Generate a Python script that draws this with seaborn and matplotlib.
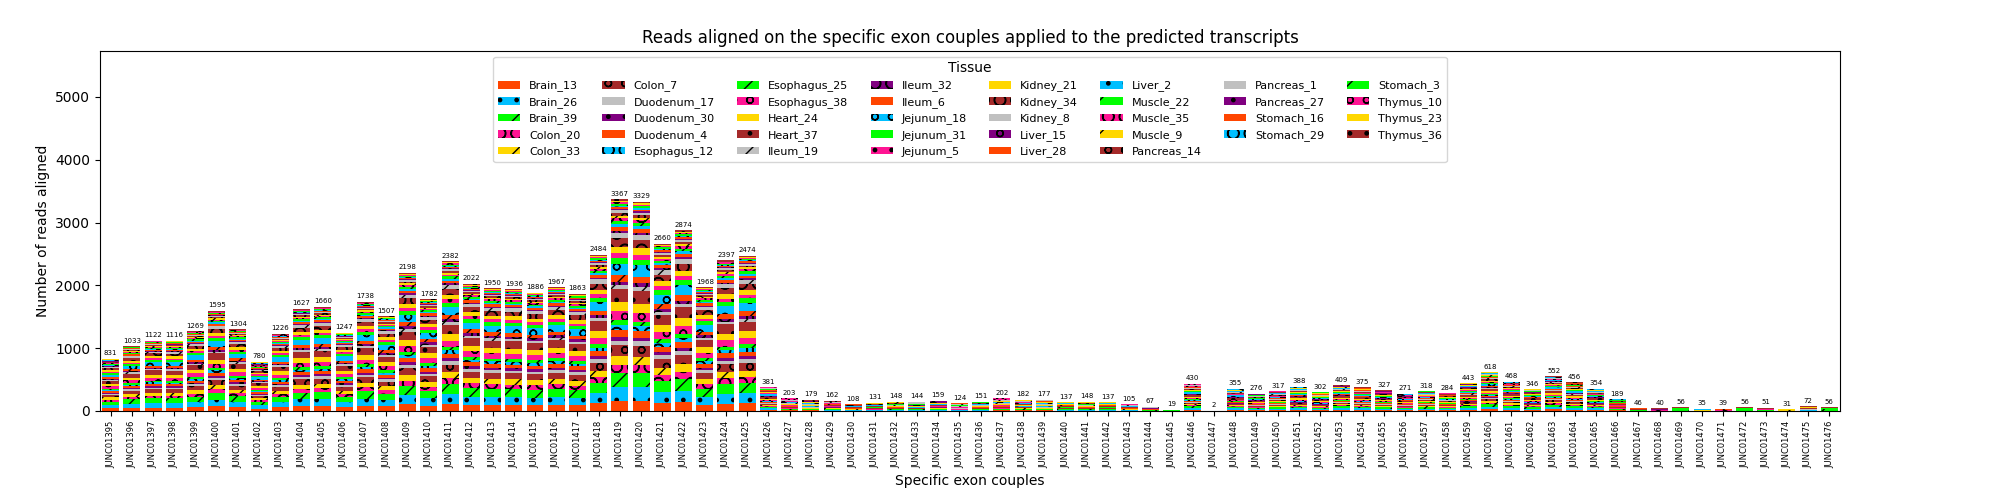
import numpy as np
import seaborn as sns
import matplotlib.pyplot as plt

junctions = [
    "JUNC01395", "JUNC01396", "JUNC01397", "JUNC01398", "JUNC01399", "JUNC01400",
    "JUNC01401", "JUNC01402", "JUNC01403", "JUNC01404", "JUNC01405", "JUNC01406",
    "JUNC01407", "JUNC01408", "JUNC01409", "JUNC01410", "JUNC01411", "JUNC01412",
    "JUNC01413", "JUNC01414", "JUNC01415", "JUNC01416", "JUNC01417", "JUNC01418",
    "JUNC01419", "JUNC01420", "JUNC01421", "JUNC01422", "JUNC01423", "JUNC01424",
    "JUNC01425", "JUNC01426", "JUNC01427", "JUNC01428", "JUNC01429", "JUNC01430",
    "JUNC01431", "JUNC01432", "JUNC01433", "JUNC01434", "JUNC01435", "JUNC01436",
    "JUNC01437", "JUNC01438", "JUNC01439", "JUNC01440", "JUNC01441", "JUNC01442",
    "JUNC01443", "JUNC01444", "JUNC01445", "JUNC01446", "JUNC01447", "JUNC01448",
    "JUNC01449", "JUNC01450", "JUNC01451", "JUNC01452", "JUNC01453", "JUNC01454",
    "JUNC01455", "JUNC01456", "JUNC01457", "JUNC01458", "JUNC01459", "JUNC01460",
    "JUNC01461", "JUNC01462", "JUNC01463", "JUNC01464", "JUNC01465", "JUNC01466",
    "JUNC01467", "JUNC01468", "JUNC01469", "JUNC01470", "JUNC01471", "JUNC01472",
    "JUNC01473", "JUNC01474", "JUNC01475", "JUNC01476",
]

# total reads per exon couple (labels above the bars)
totals = [
    831, 1033, 1122, 1116, 1269, 1595, 1304, 780, 1226, 1627, 1660, 1247,
    1738, 1507, 2198, 1782, 2382, 2022, 1950, 1936, 1886, 1967, 1863, 2484,
    3367, 3329, 2660, 2874, 1968, 2397, 2474, 381, 203, 179, 162, 108,
    131, 148, 144, 159, 124, 151, 202, 182, 177, 137, 148, 137,
    105, 67, 19, 430, 2, 355, 276, 317, 388, 302, 409, 375,
    327, 271, 318, 284, 443, 618, 468, 346, 552, 456, 354, 189,
    46, 40, 56, 35, 39, 56, 51, 31, 72, 56,
]

tissues = [
    "Brain_13", "Brain_26", "Brain_39", "Colon_20", "Colon_33", "Colon_7",
    "Duodenum_17", "Duodenum_30", "Duodenum_4", "Esophagus_12", "Esophagus_25",
    "Esophagus_38", "Heart_24", "Heart_37", "Ileum_19", "Ileum_32", "Ileum_6",
    "Jejunum_18", "Jejunum_31", "Jejunum_5", "Kidney_21", "Kidney_34", "Kidney_8",
    "Liver_15", "Liver_28", "Liver_2", "Muscle_22", "Muscle_35", "Muscle_9",
    "Pancreas_14", "Pancreas_1", "Pancreas_27", "Stomach_16", "Stomach_29",
    "Stomach_3", "Thymus_10", "Thymus_23", "Thymus_36",
]

# rough share of each tissue in a bar, read off the stripe heights
tissue_share = [
    32, 42, 43, 25, 27, 33, 15, 12, 20, 15, 15, 28, 28, 40, 12, 12, 20, 35, 18,
    15, 20, 25, 18, 6, 12, 8, 10, 8, 8, 8, 8, 4, 6, 4, 6, 5, 4, 5,
]

colors = ["#FF4500", "#00BFFF", "#00FF00", "#FF1493",
          "#FFD700", "#A52A2A", "#C0C0C0", "#800080"]
hatches = ["", ".", "/", "O", "/", "o", "", ".", "", "O", "/", "o"]

share = np.array(tissue_share, dtype=float)
share = share / share.sum()
tot = np.array(totals, dtype=float)

fig, ax = plt.subplots(figsize=(20, 5), dpi=100)

bottom = np.zeros(len(junctions))
for i, t in enumerate(tissues):
    vals = tot * share[i]
    sns.barplot(x=junctions, y=vals, bottom=bottom.copy(), color=colors[i % 8],
                hatch=hatches[i % 12], edgecolor="black", linewidth=0,
                saturation=1, width=0.8, errorbar=None, label=t, ax=ax)
    bottom += vals

for i, v in enumerate(totals):
    ax.text(i, v + 40, str(v), ha="center", va="bottom", fontsize=5)

ax.set_ylim(0, 5730)
ax.set_title("Reads aligned on the specific exon couples applied to the predicted transcripts",
             fontsize=12)
ax.set_xlabel("Specific exon couples")
ax.set_ylabel("Number of reads aligned")
ax.tick_params(axis="x", labelrotation=90, labelsize=6)

ax.legend(title="Tissue", ncol=8, loc="upper center", fontsize=8, title_fontsize=10)

plt.subplots_adjust(left=0.05, right=0.92, top=0.898, bottom=0.178)
plt.savefig("out.png")
